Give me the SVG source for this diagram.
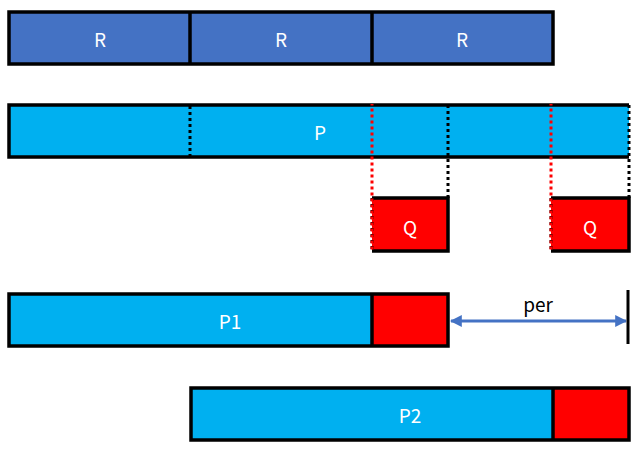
<svg xmlns="http://www.w3.org/2000/svg" width="641" height="452" viewBox="0 0 641 452">
<defs>
<style>
.lbl{font-family:"Noto Sans CJK SC","Liberation Sans",sans-serif;font-size:19px;fill:#fff;text-anchor:middle;dominant-baseline:central}
.blk{stroke:#000;stroke-width:3.5;fill:none}
.dotk{stroke:#000;stroke-width:3;stroke-dasharray:3 3;fill:none}
.dotr{stroke:#f00;stroke-width:3;stroke-dasharray:3 3;fill:none}
</style>
<marker id="ah" viewBox="0 0 10 10" refX="9" refY="5" markerWidth="4" markerHeight="4" orient="auto-start-reverse">
<path d="M0,0 L10,5 L0,10 z" fill="#4472C4"/>
</marker>
</defs>
<g id="R-row">
<rect x="9" y="12" width="544" height="52" fill="#4472C4" class="blk" style="fill:#4472C4"/>
<line x1="190" y1="12" x2="190" y2="64" class="blk"/>
<line x1="372" y1="12" x2="372" y2="64" class="blk"/>
<text x="100" y="38" class="lbl">R</text>
<text x="281" y="38" class="lbl">R</text>
<text x="462" y="38" class="lbl">R</text>
</g>
<g id="P">
<rect x="9" y="105" width="620" height="52" fill="#00B0F0"/>
<path d="M629,105 H9 V157 H629" class="blk"/>
<text x="320" y="131" class="lbl">P</text>
</g>
<g id="Q1">
<rect x="372" y="198" width="76" height="53" fill="#f00"/>
<path d="M372,198 H448 V251 H372" class="blk"/>
<text x="410" y="226" class="lbl">Q</text>
</g>
<g id="Q2">
<rect x="551" y="198" width="78" height="53" fill="#f00"/>
<path d="M551,198 H629 V251 H551" class="blk"/>
<text x="590" y="226" class="lbl">Q</text>
</g>
<g id="P1">
<rect x="9" y="294" width="363" height="52" fill="#00B0F0"/>
<rect x="372" y="294" width="76" height="52" fill="#f00"/>
<rect x="9" y="294" width="439" height="52" class="blk"/>
<line x1="372" y1="294" x2="372" y2="346" class="blk"/>
<text x="230" y="320" class="lbl">P1</text>
</g>
<g id="P2">
<rect x="191" y="388" width="362" height="52" fill="#00B0F0"/>
<rect x="553" y="388" width="76" height="52" fill="#f00"/>
<rect x="191" y="388" width="438" height="52" class="blk"/>
<line x1="553" y1="388" x2="553" y2="440" class="blk"/>
<text x="410" y="414" class="lbl">P2</text>
</g>
<g id="connectors">
<line x1="190" y1="106" x2="190" y2="157" class="dotk"/>
<line x1="448" y1="105" x2="448" y2="198" class="dotk"/>
<line x1="629" y1="105" x2="629" y2="198" class="dotk"/>
<line x1="372" y1="198" x2="372" y2="251" class="dotk"/>
<line x1="551" y1="198" x2="551" y2="251" class="dotk"/>
<line x1="372" y1="104" x2="372" y2="252" class="dotr" stroke-dashoffset="1.5"/>
<line x1="551" y1="104" x2="551" y2="252" class="dotr" stroke-dashoffset="1.5"/>
<line x1="451" y1="321" x2="626" y2="321" stroke="#4472C4" stroke-width="3" marker-start="url(#ah)" marker-end="url(#ah)"/>
<line x1="628" y1="290" x2="628" y2="344" stroke="#000" stroke-width="3"/>
<text x="538" y="303" font-family="Noto Sans CJK SC,Liberation Sans,sans-serif" font-size="19" fill="#000" text-anchor="middle" dominant-baseline="central">per</text>
</g>
</svg>
